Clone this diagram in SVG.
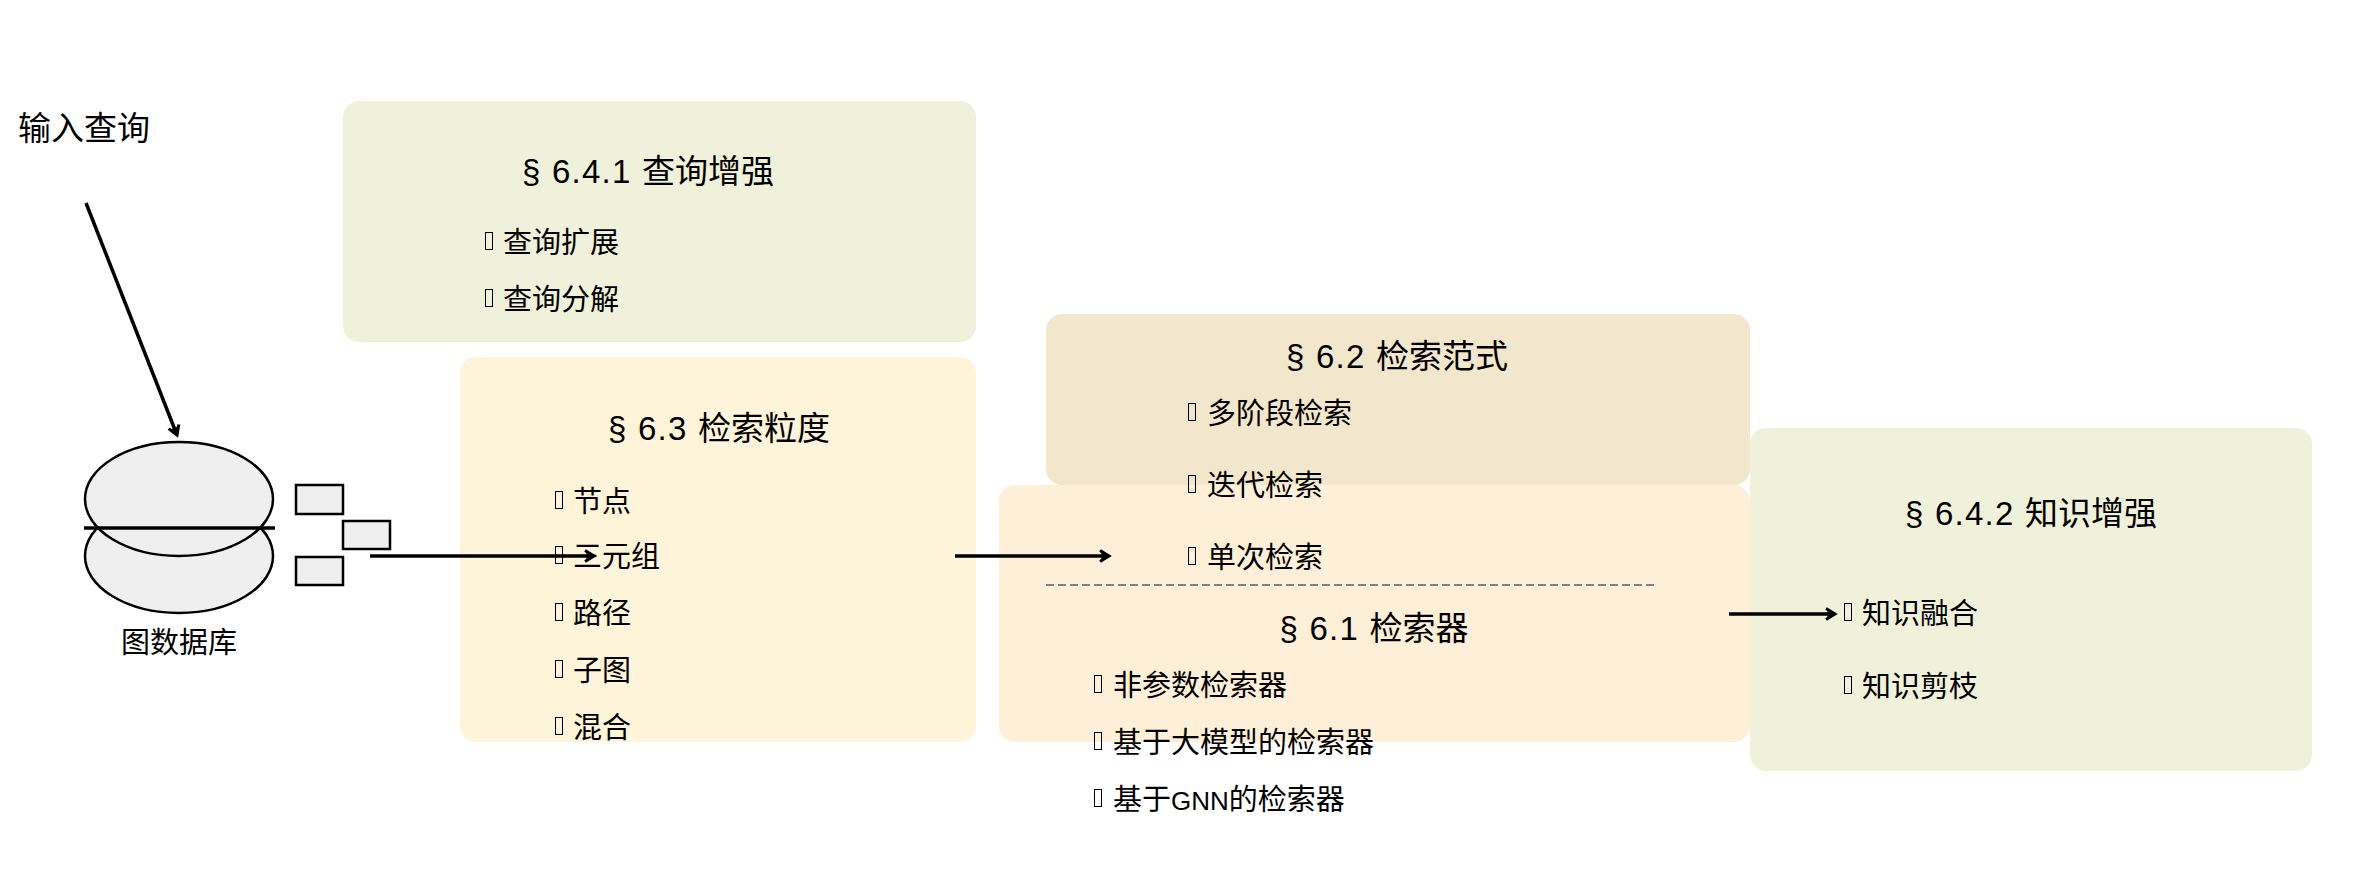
<svg xmlns="http://www.w3.org/2000/svg" width="2374" height="885" viewBox="0 0 2374 885">
<style>
text{font-family:"Liberation Sans","Noto Sans CJK SC",sans-serif;fill:#000}
.h{font-size:33px;text-anchor:middle}
.n{letter-spacing:1.25px}
.i{font-size:29px}
.l{font-size:33px}
.db{fill:#efefef;stroke:#000;stroke-width:2.5}
.c{fill:none;stroke:#000;stroke-width:3.5;marker-end:url(#a)}
</style>
<defs><marker id="a" markerUnits="userSpaceOnUse" markerWidth="16" markerHeight="16" refX="13" refY="8" orient="auto"><path d="M4 2.5L13 8L4 13.5" fill="none" stroke="#000" stroke-width="3"/><path d="M6 8L5 5L13 8L5 11Z" fill="#000"/></marker>
<rect id="b" x="0.5" y="-20.5" width="7" height="17" fill="none" stroke="#000" stroke-width="1"/></defs>
<rect width="2374" height="885" fill="#fff"/>
<g id="box-641"><rect x="343" y="101" width="633" height="241" rx="16" fill="#eff1da"/>
<text class="h" x="648" y="183"><tspan class="n">§ 6.4.1 </tspan>查询增强</text>
<use href="#b" x="485" y="253"/><text class="i" x="503" y="253">查询扩展</text><use href="#b" x="485" y="310"/><text class="i" x="503" y="310">查询分解</text></g>
<g id="box-63"><rect x="460" y="357" width="516" height="385" rx="16" fill="#fef4d9"/>
<text class="h" x="719" y="440"><tspan class="n">§ 6.3 </tspan>检索粒度</text>
<use href="#b" x="555" y="512"/><text class="i" x="573" y="512">节点</text><use href="#b" x="555" y="567"/><text class="i" x="573" y="567">三元组</text><use href="#b" x="555" y="624"/><text class="i" x="573" y="624">路径</text><use href="#b" x="555" y="681"/><text class="i" x="573" y="681">子图</text><use href="#b" x="555" y="738"/><text class="i" x="573" y="738">混合</text></g>
<g id="box-62"><rect x="1046" y="314" width="704" height="171" rx="16" fill="#f2e7cd"/></g>
<g id="box-642"><rect x="1750" y="428" width="562" height="343" rx="16" fill="#eff1da"/>
<text class="h" x="2031" y="525"><tspan class="n">§ 6.4.2 </tspan>知识增强</text>
<use href="#b" x="1844" y="624"/><text class="i" x="1862" y="624">知识融合</text><use href="#b" x="1844" y="697"/><text class="i" x="1862" y="697">知识剪枝</text></g>
<g id="box-61"><rect x="999" y="485" width="751" height="257" rx="16" fill="#feefd9"/>
<line x1="1046" y1="585" x2="1656" y2="585" stroke="#808080" stroke-width="2" stroke-dasharray="8 4"/>
<text class="h" x="1374" y="640"><tspan class="n">§ 6.1 </tspan>检索器</text>
<use href="#b" x="1094" y="696"/><text class="i" x="1113" y="696">非参数检索器</text><use href="#b" x="1094" y="753"/><text class="i" x="1113" y="753">基于大模型的检索器</text><use href="#b" x="1094" y="810"/><text class="i" x="1113" y="810">基于<tspan font-size="26">GNN</tspan>的检索器</text></g>
<g id="box-62-text"><text class="h" x="1397" y="368"><tspan class="n">§ 6.2 </tspan>检索范式</text>
<use href="#b" x="1188" y="424"/><text class="i" x="1207" y="424">多阶段检索</text><use href="#b" x="1188" y="496"/><text class="i" x="1207" y="496">迭代检索</text><use href="#b" x="1188" y="568"/><text class="i" x="1207" y="568">单次检索</text></g>
<g id="input"><text class="l" x="18" y="140">输入查询</text></g>
<g id="graph-db">
<ellipse class="db" cx="179" cy="556" rx="94" ry="57"/><ellipse class="db" cx="179" cy="499" rx="94" ry="57"/>
<line x1="84" y1="528" x2="275" y2="528" stroke="#000" stroke-width="3.5"/>
<rect class="db" x="296" y="485" width="47" height="29"/><rect class="db" x="343" y="521" width="47" height="28"/><rect class="db" x="296" y="557" width="47" height="28"/>
<text class="i" x="179" y="653" text-anchor="middle">图数据库</text></g>
<g id="connectors">
<path class="c" d="M86 203L177 435"/><path class="c" d="M370 556H594"/><path class="c" d="M955 556H1109"/><path class="c" d="M1729 614H1835"/>
</g>
</svg>
